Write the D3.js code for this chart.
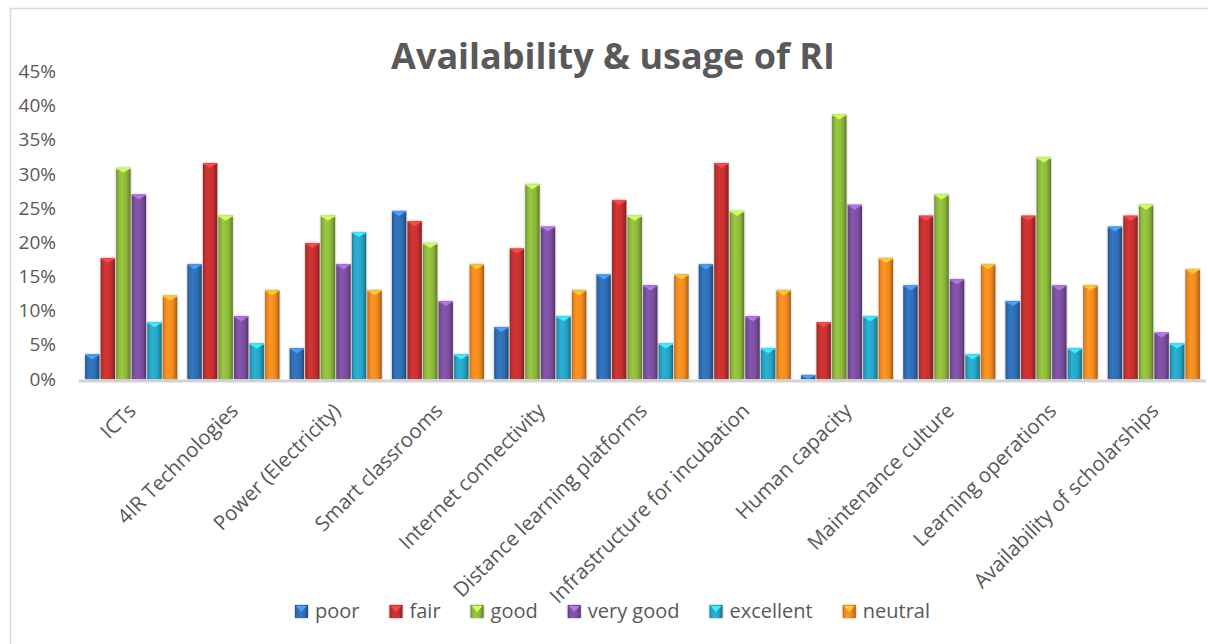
<!DOCTYPE html>
<html>
<head>
<meta charset="utf-8">
<script src="https://cdn.jsdelivr.net/npm/d3@7"></script>
<style>
  html, body { margin: 0; padding: 0; background: #fff; }
  svg { display: block; }
  text { font-family: "Open Sans", "DejaVu Sans", sans-serif; fill: #595959; }
</style>
</head>
<body>
<svg id="chart" width="1208" height="644"></svg>
<script>
const categories = ["ICTs", "4IR Technologies", "Power (Electricity)", "Smart classrooms",
  "Internet connectivity", "Distance learning platforms", "Infrastructure for incubation",
  "Human capacity", "Maintenance culture", "Learning operations", "Availability of scholarships"];
const seriesNames = ["poor", "fair", "good", "very good", "excellent", "neutral"];
const poor      = [0.036, 0.168, 0.045, 0.246, 0.076, 0.153, 0.168, 0.006, 0.137, 0.114, 0.223];
const fair      = [0.177, 0.316, 0.199, 0.231, 0.191, 0.262, 0.316, 0.083, 0.239, 0.239, 0.239];
const good      = [0.309, 0.239, 0.239, 0.199, 0.285, 0.239, 0.246, 0.387, 0.270, 0.324, 0.255];
const veryGood  = [0.270, 0.092, 0.168, 0.114, 0.223, 0.137, 0.092, 0.255, 0.146, 0.137, 0.068];
const excellent = [0.083, 0.052, 0.215, 0.036, 0.092, 0.052, 0.045, 0.092, 0.036, 0.045, 0.052];
const neutral   = [0.122, 0.130, 0.130, 0.168, 0.130, 0.153, 0.130, 0.177, 0.168, 0.137, 0.161];
const yTicks = [0, 0.05, 0.10, 0.15, 0.20, 0.25, 0.30, 0.35, 0.40, 0.45];
const title = "Availability & usage of RI";

const seriesValues = [poor, fair, good, veryGood, excellent, neutral];
const seriesColors = ["#2f6db3", "#c4302f", "#8db83b", "#7b4f9f", "#27a3c4", "#f2891f"];

const svg = d3.select("#chart");
const defs = svg.append("defs");

// chart border
svg.append("rect").attr("x", 10.5).attr("y", 8.5).attr("width", 1400).attr("height", 800)
  .attr("fill", "none").attr("stroke", "#d9d9d9").attr("stroke-width", 1.5);

// gradients
seriesColors.forEach((c, i) => {
  const base = d3.color(c);
  const g = defs.append("linearGradient").attr("id", "g" + i)
    .attr("x1", "0").attr("x2", "1").attr("y1", "0").attr("y2", "0");
  g.append("stop").attr("offset", "0%").attr("stop-color", base.darker(0.9));
  g.append("stop").attr("offset", "12%").attr("stop-color", base.darker(0.1));
  g.append("stop").attr("offset", "35%").attr("stop-color", base.brighter(0.25));
  g.append("stop").attr("offset", "70%").attr("stop-color", base);
  g.append("stop").attr("offset", "90%").attr("stop-color", base.darker(0.6));
  g.append("stop").attr("offset", "100%").attr("stop-color", base.darker(1.4));
});
const shadow = defs.append("filter").attr("id", "sh").attr("x", "-40%").attr("y", "-10%")
  .attr("width", "180%").attr("height", "120%");
shadow.append("feDropShadow").attr("dx", 0).attr("dy", 0).attr("stdDeviation", 1.3)
  .attr("flood-color", "#000").attr("flood-opacity", 0.35);

// scales
const x0 = d3.scaleBand().domain(categories).range([79, 1206]).paddingInner(0.1).paddingOuter(0.06);
const x1 = d3.scaleBand().domain(seriesNames).range([0, x0.bandwidth()]).paddingInner(0.08);
const y = d3.scaleLinear().domain([0, 0.45]).range([379, 71.5]);

// title
svg.append("text").attr("x", 613).attr("y", 69).attr("text-anchor", "middle")
  .style("font-size", "36px").style("font-weight", "bold").text(title);

// y axis labels
const yAxis = d3.axisLeft(y).tickValues(yTicks).tickFormat(d3.format(".0%")).tickSize(0).tickPadding(0);
const yg = svg.append("g").attr("transform", "translate(56,0)").call(yAxis);
yg.select(".domain").remove();
yg.selectAll("text").style("font-size", "19px").style("font-family", "'Open Sans', sans-serif")
  .attr("fill", "#595959");

// floor
svg.append("line").attr("x1", 79).attr("x2", 1206).attr("y1", y(0) + 2).attr("y2", y(0) + 2)
  .attr("stroke", "#d4d4d4").attr("stroke-width", 3);

// bars
const groups = svg.append("g").selectAll("g").data(categories).join("g")
  .attr("transform", d => `translate(${x0(d)},0)`);
groups.each(function(cat, ci) {
  const gsel = d3.select(this);
  seriesNames.forEach((s, si) => {
    const v = seriesValues[si][ci];
    const bx = x1(s), bw = x1.bandwidth(), top = y(v), h = y(0) - y(v);
    const bar = gsel.append("g");
    bar.append("rect").attr("x", bx).attr("y", top).attr("width", bw).attr("height", h)
      .attr("fill", `url(#g${si})`).attr("filter", "url(#sh)");
    const base = d3.color(seriesColors[si]);
    const th = Math.min(5, h);
    bar.append("rect").attr("x", bx).attr("y", top).attr("width", bw).attr("height", Math.min(1.5, h))
      .attr("fill", base.brighter(0.9));
    bar.append("path")
      .attr("d", `M${bx + 1},${top + 1} L${bx + bw - 1},${top + 1} L${bx + bw / 2},${top + th} Z`)
      .attr("fill", base.brighter(1.1));
  });
});

// x labels
categories.forEach(c => {
  svg.append("text")
    .attr("transform", `translate(${x0(c) + x0.bandwidth() / 2 + 6},412) rotate(-45)`)
    .attr("text-anchor", "end").style("font-size", "20.5px").text(c);
});

// legend
const legend = svg.append("g");
let lx = 295;
seriesNames.forEach((s, si) => {
  const base = d3.color(seriesColors[si]);
  const it = legend.append("g").attr("transform", `translate(${lx},605)`);
  it.append("rect").attr("width", 13).attr("height", 13).attr("fill", `url(#g${si})`)
    .attr("filter", "url(#sh)");
  it.append("path").attr("d", "M1,1 L12,1 L6.5,7 Z").attr("fill", base.brighter(1.1));
  const t = it.append("text").attr("x", 20).attr("y", 13).style("font-size", "20px").text(s);
  lx += 20 + t.node().getComputedTextLength() + 30;
});
</script>
</body>
</html>
